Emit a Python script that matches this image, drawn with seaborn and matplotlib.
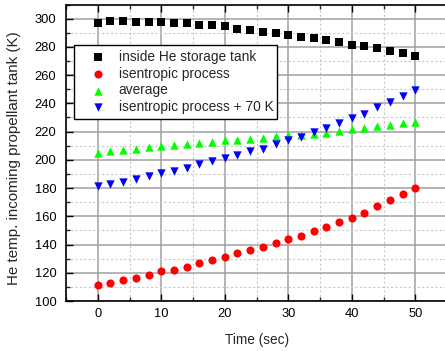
import numpy as np
import pandas as pd
import matplotlib
matplotlib.use("Agg")
import matplotlib.pyplot as plt
import seaborn as sns
from matplotlib.ticker import MultipleLocator

# Data
time_s = list(range(0, 51, 2))
tank_temp = [297.2, 298.4, 298.1, 297.9, 297.9, 297.9, 297.0, 297.0, 295.7, 295.5,
             294.8, 292.7, 292.0, 290.7, 289.8, 288.1, 287.0, 286.0, 284.8, 283.1,
             281.3, 280.3, 278.9, 277.2, 275.3, 273.2]
isentropic = [111.6, 112.8, 114.7, 116.6, 118.3, 120.9, 122.1, 124.4, 126.6, 129.2,
              131.3, 133.7, 136.3, 138.2, 141.3, 143.6, 146.3, 149.3, 152.5, 155.7,
              159.1, 162.6, 167.6, 171.4, 175.9, 179.9]
average = [204.8, 206.0, 206.8, 207.7, 208.9, 209.9, 210.2, 211.4, 211.7, 212.7,
           213.9, 213.9, 214.6, 215.5, 216.7, 217.4, 217.4, 218.1, 219.3, 220.3,
           221.5, 222.2, 223.8, 225.0, 226.2, 226.9]
isentropic_70 = [181.6, 182.8, 184.4, 186.5, 188.4, 190.6, 191.8, 194.4, 196.8, 199.2,
                 201.3, 203.7, 206.0, 208.0, 211.5, 213.7, 216.5, 219.4, 222.2, 225.8,
                 229.3, 232.4, 237.6, 241.1, 245.4, 249.5]

series_names = ["inside He storage tank", "isentropic process", "average",
                "isentropic process + 70 K"]
series_vals = [tank_temp, isentropic, average, isentropic_70]

colors = {"inside He storage tank": "#000000", "isentropic process": "#ff0000",
          "average": "#00ff00", "isentropic process + 70 K": "#0000ff"}
markers = {"inside He storage tank": "s", "isentropic process": "o",
           "average": "^", "isentropic process + 70 K": "v"}
sizes = {"inside He storage tank": 26, "isentropic process": 34,
         "average": 36, "isentropic process + 70 K": 36}

rows = []
for name, vals in zip(series_names, series_vals):
    for t, v in zip(time_s, vals):
        rows.append({"Time": t, "Temp": v, "Series": name})
df = pd.DataFrame(rows)

sns.set_theme(style="white")
plt.rcParams["font.family"] = ["Liberation Sans", "DejaVu Sans"]

fig = plt.figure(figsize=(4.45, 3.51), dpi=100)
ax = fig.add_axes([66 / 445, 50 / 351, 381 / 445, 296.5 / 351])

for name in series_names:
    sub = df[df["Series"] == name]
    sns.scatterplot(data=sub, x="Time", y="Temp", ax=ax, color=colors[name],
                    marker=markers[name], s=sizes[name], linewidth=0,
                    label=name, zorder=3)

ax.set_xlim(-5, 55)
ax.set_ylim(100, 310)
ax.xaxis.set_major_locator(MultipleLocator(10))
ax.xaxis.set_minor_locator(MultipleLocator(5))
ax.yaxis.set_major_locator(MultipleLocator(20))
ax.yaxis.set_minor_locator(MultipleLocator(10))

ax.grid(which="major", color="#a0a0a0", linewidth=1.1, linestyle="-", zorder=0)
ax.grid(which="minor", color="#c8c8c8", linewidth=0.8, linestyle=(0, (2, 2)), zorder=0)
ax.set_axisbelow(True)

for sp in ax.spines.values():
    sp.set_color("black")
    sp.set_linewidth(1.2)

ax.tick_params(which="major", direction="in", length=5, width=1, top=True,
               labelsize=9.3, colors="black")
ax.tick_params(which="minor", direction="in", length=3, width=1, top=True)
ax.tick_params(axis="y", which="both", left=True, pad=7)
ax.tick_params(axis="x", which="both", bottom=True, pad=5)

ax.set_xlabel("")
ax.set_ylabel("")
fig.text(257 / 445, 1 - 340 / 351, "Time (sec)", fontsize=9.8,
         ha="center", va="center")
fig.text(14 / 445, 1 - 158 / 351, "He temp. incoming propellant tank (K)",
         fontsize=10.9, rotation=90, ha="center", va="center")

leg = ax.legend(loc="upper left",
                bbox_to_anchor=(74 / 445, 1 - 118 / 351, 203 / 445, 73 / 351),
                bbox_transform=fig.transFigure, mode="expand",
                fontsize=9.9, frameon=True,
                fancybox=False, edgecolor="black", framealpha=1,
                borderaxespad=0, handletextpad=0.15, labelspacing=0.2,
                borderpad=0.35, handlelength=2.75)
leg.get_frame().set_linewidth(1.0)

fig.savefig("out.png", dpi=100)
